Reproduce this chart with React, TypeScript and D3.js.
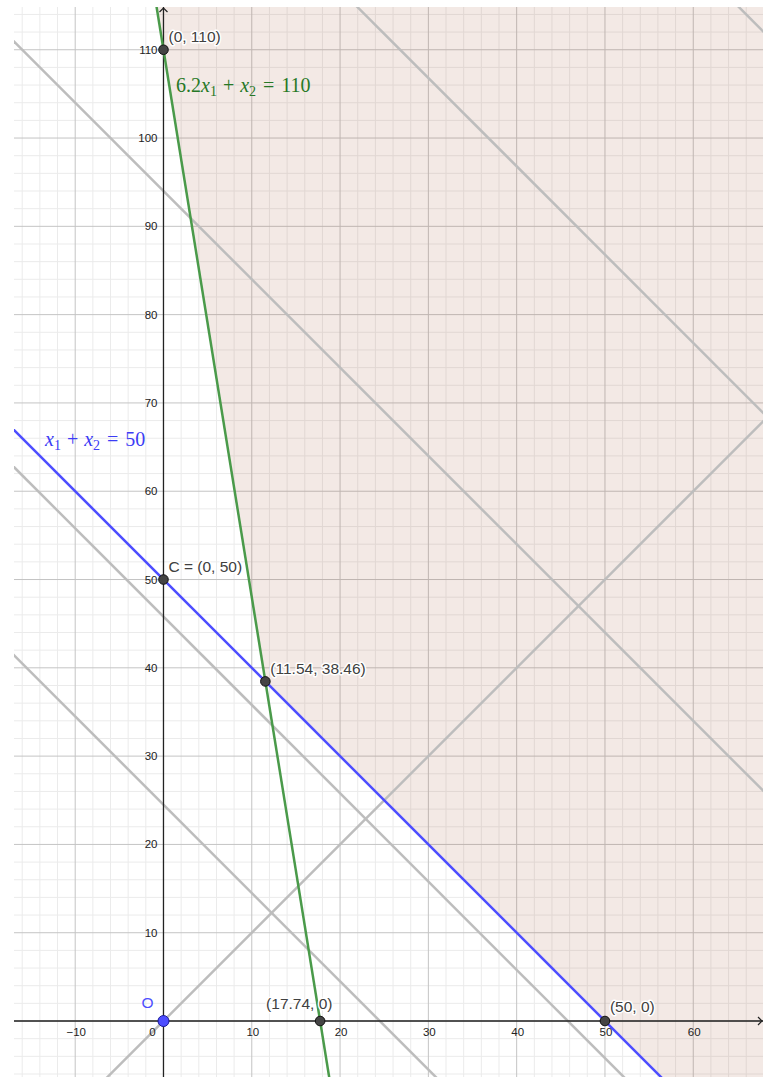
import React from "react";
import * as d3 from "d3";

// ---- data ----
const xDomain: [number, number] = [-16.93, 67.9];
const yDomain: [number, number] = [-6.34, 114.84];
const xMajorTicks = [-10, 0, 10, 20, 30, 40, 50, 60];
const yMajorTicks = [10, 20, 30, 40, 50, 60, 70, 80, 90, 100, 110];
const minorStep = 2;
// constraints a*x1 + b*x2 = rhs
const constraintA = [6.2, 1];
const constraintB = [1, 1];
const constraintRhs = [110, 50];
const constraintColors = ["#4a9a4a", "#4d4dff"];
// grey level lines x1 + x2 = c
const levelConstants = [24.5, 45.8, 94, 136.8, 180];
// grey line x2 = slope * x1
const rayslopes = [1];
// labelled points
const pointX = [0, 0, 11.54, 17.74, 50];
const pointY = [110, 50, 38.46, 0, 0];
const pointLabels = ["(0, 110)", "C = (0, 50)", "(11.54, 38.46)", "(17.74, 0)", "(50, 0)"];
const originLabel = "O";

const W = 763;
const H = 1077;
const left = 14;
const top = 7;

function Equation({ coef, rhs, x, y, fill }: { coef: string; rhs: string; x: number; y: number; fill: string }) {
  return (
    <text x={x} y={y} fontFamily="Liberation Serif, DejaVu Serif, serif" fontSize={20} fill={fill}>
      {coef ? <tspan>{coef}</tspan> : null}
      <tspan fontStyle="italic">x</tspan>
      <tspan fontSize={14} dy={4}>1</tspan>
      <tspan dy={-4} dx={6}>+</tspan>
      <tspan dx={6} fontStyle="italic">x</tspan>
      <tspan fontSize={14} dy={4}>2</tspan>
      <tspan dy={-4} dx={7}>=</tspan>
      <tspan dx={7}>{rhs}</tspan>
    </text>
  );
}

export default function App() {
  const x = d3.scaleLinear().domain(xDomain).range([left, W]);
  const y = d3.scaleLinear().domain(yDomain).range([H, top]);

  const minorX = d3.range(Math.ceil(xDomain[0] / minorStep) * minorStep, xDomain[1], minorStep).filter((v) => v % 10 !== 0);
  const minorY = d3.range(Math.ceil(yDomain[0] / minorStep) * minorStep, yDomain[1], minorStep).filter((v) => v % 10 !== 0);
  const majorX = d3.range(-10, xDomain[1], 10);
  const majorY = d3.range(0, yDomain[1], 10);

  const lineGen = d3.line<[number, number]>().x((d) => x(d[0])).y((d) => y(d[1]));

  const lineThrough = (a: number, b: number, c: number) => {
    const x0 = xDomain[0] - 5;
    const x1 = xDomain[1] + 5;
    return lineGen([
      [x0, (c - a * x0) / b],
      [x1, (c - a * x1) / b],
    ]);
  };

  // feasible shading region
  const [a1, a2] = constraintA;
  const [b1, b2] = constraintB;
  const [r1, r2] = constraintRhs;
  const det = a1 * b2 - a2 * b1;
  const ix = (r1 * b2 - r2 * b1) / det;
  const iy = (a1 * r2 - a2 * r1) / det;
  const ymaxE = yDomain[1] + 1;
  const yminE = yDomain[0] - 1;
  const xmaxE = xDomain[1] + 1;
  const shadePts: [number, number][] = [
    [(r1 - b1 * ymaxE) / a1, ymaxE],
    [xmaxE, ymaxE],
    [xmaxE, yminE],
    [(r2 - b2 * yminE) / a2, yminE],
    [ix, iy],
  ];
  const shadePath = lineGen(shadePts) + "Z";

  const labelOffsets: [number, number][] = [
    [5, -8],
    [5, -8],
    [5, -7],
    [-54, -12],
    [5, -9],
  ];

  const x0p = x(0);
  const y0p = y(0);

  return (
    <svg width={W} height={H} style={{ position: "absolute", left: 0, top: 0, background: "#fff" }}>
      <defs>
        <clipPath id="plot">
          <rect x={left} y={top} width={W - left} height={H - top} />
        </clipPath>
      </defs>
      <g clipPath="url(#plot)">
        <rect x={left} y={top} width={W - left} height={H - top} fill="#fff" />
        {minorX.map((v) => (
          <line key={"mx" + v} x1={x(v)} x2={x(v)} y1={top} y2={H} stroke="#ebebeb" strokeWidth={1} />
        ))}
        {minorY.map((v) => (
          <line key={"my" + v} y1={y(v)} y2={y(v)} x1={left} x2={W} stroke="#ebebeb" strokeWidth={1} />
        ))}
        {majorX.map((v) => (
          <line key={"Mx" + v} x1={x(v)} x2={x(v)} y1={top} y2={H} stroke="#c4c4c4" strokeWidth={1} />
        ))}
        {majorY.map((v) => (
          <line key={"My" + v} y1={y(v)} y2={y(v)} x1={left} x2={W} stroke="#c4c4c4" strokeWidth={1} />
        ))}
        <path d={shadePath} fill="#a0522d" fillOpacity={0.125} stroke="none" />
        {levelConstants.map((c) => (
          <path key={"lv" + c} d={lineThrough(1, 1, c) || ""} stroke="#bdbdbd" strokeWidth={2.5} fill="none" />
        ))}
        {rayslopes.map((s) => (
          <path key={"rs" + s} d={lineThrough(-s, 1, 0) || ""} stroke="#bdbdbd" strokeWidth={2.5} fill="none" />
        ))}
        {/* axes */}
        <line x1={left} x2={W} y1={y0p} y2={y0p} stroke="#222" strokeWidth={1.3} />
        <line x1={x0p} x2={x0p} y1={top} y2={H} stroke="#222" strokeWidth={1.3} />
        <path d={`M${x0p - 4},${top + 5} L${x0p},${top + 1} L${x0p + 4},${top + 5}`} stroke="#222" strokeWidth={1.2} fill="none" />
        <path d={`M${W - 5},${y0p - 4} L${W - 1},${y0p} L${W - 5},${y0p + 4}`} stroke="#222" strokeWidth={1.2} fill="none" />
        {constraintA.map((a, i) => (
          <path key={"c" + i} d={lineThrough(a, constraintB[i], constraintRhs[i]) || ""} stroke={constraintColors[i]} strokeWidth={2.5} fill="none" />
        ))}
      </g>
      {/* tick labels */}
      <g fontFamily="Liberation Sans, Arial, sans-serif" fontSize={11.5} fill="#222">
        {xMajorTicks.map((v) => (
          <text key={"xt" + v} x={v === 0 ? x(v) - 11 : x(v) + 1} y={y0p + 15} textAnchor="middle">
            {v < 0 ? "\u2212" + Math.abs(v) : String(v)}
          </text>
        ))}
        {yMajorTicks.map((v) => (
          <text key={"yt" + v} x={x0p - 6} y={y(v) + 4} textAnchor="end">
            {v}
          </text>
        ))}
      </g>
      {/* points */}
      {pointX.map((px, i) => (
        <circle key={"p" + i} cx={x(px)} cy={y(pointY[i])} r={4.8} fill="#444" stroke="#111" strokeWidth={1} />
      ))}
      <circle cx={x0p} cy={y0p} r={5.5} fill="#4d4dff" stroke="#1a1a99" strokeWidth={1} />
      {/* point labels */}
      <g fontFamily="Liberation Sans, Arial, sans-serif" fontSize={15.5} fill="#404040" stroke="#fff" strokeWidth={3} strokeLinejoin="round">
        {pointLabels.map((t, i) => (
          <text key={"pl" + i} x={x(pointX[i]) + labelOffsets[i][0]} y={y(pointY[i]) + labelOffsets[i][1]} style={{ paintOrder: "stroke" }}>
            {t}
          </text>
        ))}
      </g>
      <text x={x0p - 22} y={y0p - 13} fontFamily="Liberation Sans, Arial, sans-serif" fontSize={15.5} fill="#4d4dff">
        {originLabel}
      </text>
      {/* equation labels */}
      <Equation coef="6.2" rhs="110" x={176} y={92} fill="#267826" />
      <Equation coef="" rhs="50" x={45} y={446} fill="#3c3cf5" />
    </svg>
  );
}
